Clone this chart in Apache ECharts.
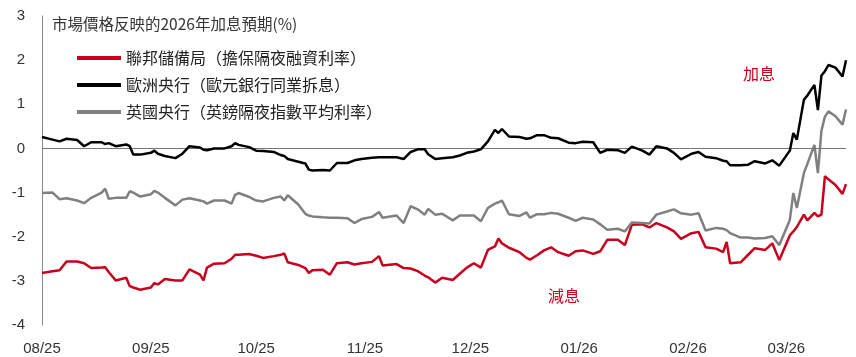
<!DOCTYPE html>
<html><head><meta charset="utf-8">
<script src="https://cdn.jsdelivr.net/npm/echarts@6/dist/echarts.min.js"></script>
<style>html,body{margin:0;padding:0;background:#fff}#c{width:856px;height:357px}</style>
</head><body><div id="c"></div>
<script>
const titleText = '市場價格反映的2026年加息預期(%)';
const seriesNames = ['聯邦儲備局（擔保隔夜融資利率）', '歐洲央行（歐元銀行同業拆息）', '英國央行（英鎊隔夜指數平均利率）'];
const dates = [
'2025-08-01','2025-08-04','2025-08-06','2025-08-08','2025-08-11','2025-08-13','2025-08-15','2025-08-18','2025-08-19','2025-08-20',
'2025-08-22','2025-08-25','2025-08-26','2025-08-27','2025-08-29','2025-09-01','2025-09-02','2025-09-03','2025-09-05','2025-09-08',
'2025-09-10','2025-09-12','2025-09-15','2025-09-16','2025-09-17','2025-09-19','2025-09-22','2025-09-24','2025-09-25','2025-09-26',
'2025-09-29','2025-10-01','2025-10-03','2025-10-06','2025-10-08','2025-10-09','2025-10-10','2025-10-13','2025-10-15','2025-10-16',
'2025-10-17','2025-10-20','2025-10-22','2025-10-24','2025-10-27','2025-10-29','2025-10-31','2025-11-03','2025-11-05','2025-11-06',
'2025-11-10','2025-11-12','2025-11-14','2025-11-16','2025-11-18','2025-11-19','2025-11-21','2025-11-23','2025-11-26','2025-11-28',
'2025-11-30','2025-12-02','2025-12-04','2025-12-06','2025-12-08','2025-12-09','2025-12-10','2025-12-12','2025-12-15','2025-12-17',
'2025-12-18','2025-12-20','2025-12-22','2025-12-24','2025-12-26','2025-12-29','2025-12-31','2026-01-02','2026-01-05','2026-01-07',
'2026-01-09','2026-01-12','2026-01-14','2026-01-16','2026-01-19','2026-01-21','2026-01-23','2026-01-26','2026-01-28','2026-01-30',
'2026-02-02','2026-02-04','2026-02-06','2026-02-09','2026-02-11','2026-02-12','2026-02-13','2026-02-16','2026-02-18','2026-02-20',
'2026-02-23','2026-02-25','2026-02-27','2026-03-02','2026-03-03','2026-03-04','2026-03-06','2026-03-07','2026-03-09','2026-03-10',
'2026-03-11','2026-03-12','2026-03-13','2026-03-15','2026-03-17','2026-03-18'];
const ecbValues = [
0.26,0.20,0.16,0.22,0.19,0.05,0.14,0.14,0.10,0.12,
0.05,0.09,0.05,-0.14,-0.14,-0.10,-0.05,-0.12,-0.17,-0.22,
-0.12,0.05,0.02,-0.03,-0.04,0.00,0.00,0.05,0.12,0.08,
0.03,-0.05,-0.06,-0.08,-0.15,-0.17,-0.24,-0.30,-0.34,-0.48,
-0.50,-0.49,-0.50,-0.33,-0.33,-0.27,-0.24,-0.21,-0.20,-0.20,
-0.20,-0.24,-0.08,-0.02,-0.02,-0.13,-0.24,-0.22,-0.20,-0.16,
-0.10,-0.07,-0.02,0.16,0.42,0.35,0.44,0.27,0.26,0.22,
0.23,0.30,0.30,0.24,0.23,0.13,0.12,0.15,0.14,-0.10,
-0.03,-0.04,-0.10,0.04,-0.05,-0.14,0.05,0.00,-0.10,-0.25,
-0.12,-0.08,-0.19,-0.22,-0.28,-0.29,-0.38,-0.38,-0.37,-0.29,
-0.34,-0.27,-0.39,-0.05,0.35,0.20,1.10,1.20,1.44,0.87,
1.65,1.75,1.89,1.83,1.63,2.00];
const boeValues = [
-1.01,-1.00,-1.15,-1.13,-1.18,-1.24,-1.12,-1.00,-0.91,-1.14,
-1.12,-1.12,-0.97,-1.00,-1.09,-1.04,-0.96,-1.00,-1.12,-1.29,
-1.16,-1.13,-1.18,-1.20,-1.25,-1.18,-1.18,-1.25,-1.05,-1.01,
-1.10,-1.18,-1.20,-1.12,-1.09,-1.18,-1.06,-1.27,-1.48,-1.52,
-1.54,-1.56,-1.57,-1.57,-1.58,-1.69,-1.60,-1.55,-1.44,-1.57,
-1.52,-1.69,-1.31,-1.38,-1.50,-1.37,-1.50,-1.48,-1.63,-1.52,
-1.52,-1.52,-1.65,-1.35,-1.25,-1.22,-1.18,-1.49,-1.53,-1.45,
-1.57,-1.49,-1.49,-1.46,-1.48,-1.57,-1.64,-1.57,-1.61,-1.72,
-1.84,-1.82,-1.88,-1.68,-1.69,-1.70,-1.50,-1.43,-1.38,-1.47,
-1.50,-1.47,-1.86,-1.80,-1.82,-1.85,-1.92,-2.02,-2.02,-2.04,
-2.03,-1.99,-2.19,-1.62,-1.01,-1.35,-0.56,-0.35,0.08,-0.56,
0.40,0.72,0.84,0.73,0.54,0.88];
const fedValues = [
-2.82,-2.78,-2.76,-2.56,-2.56,-2.60,-2.71,-2.70,-2.69,-2.80,
-2.99,-2.93,-3.12,-3.15,-3.20,-3.15,-3.05,-3.08,-2.96,-2.99,
-2.99,-2.74,-2.86,-2.99,-2.70,-2.61,-2.60,-2.50,-2.41,-2.41,
-2.39,-2.43,-2.48,-2.44,-2.41,-2.38,-2.58,-2.64,-2.71,-2.82,
-2.76,-2.75,-2.86,-2.60,-2.58,-2.63,-2.60,-2.57,-2.44,-2.65,
-2.62,-2.71,-2.72,-2.78,-2.88,-2.92,-3.04,-2.93,-2.98,-2.84,
-2.70,-2.60,-2.70,-2.30,-2.22,-2.04,-2.15,-2.25,-2.35,-2.48,
-2.52,-2.42,-2.31,-2.24,-2.35,-2.43,-2.33,-2.31,-2.39,-2.33,
-2.07,-2.07,-2.19,-1.73,-1.72,-1.79,-1.69,-1.79,-1.88,-2.05,
-1.92,-1.89,-2.24,-2.27,-2.35,-2.12,-2.60,-2.58,-2.42,-2.26,
-2.30,-2.15,-2.53,-1.97,-1.88,-1.78,-1.50,-1.63,-1.46,-1.54,
-1.50,-0.63,-0.70,-0.83,-1.03,-0.81];
const annotations = ['加息', '減息'];

const RED = '#c8001e', BLACK = '#000000', GRAY = '#808080';
const FONT = '"Liberation Sans", "Noto Sans CJK TC", sans-serif';
const CJK = '"Noto Sans CJK TC", "Liberation Sans", sans-serif';
const pair = vals => dates.map((d, i) => [d, vals[i]]);

const chart = echarts.init(document.getElementById('c'), null, {renderer: 'canvas'});
chart.setOption({
  animation: false,
  backgroundColor: '#fff',
  title: {text: titleText, left: 52, top: 16, padding: 0,
    textStyle: {fontSize: 15.5, fontWeight: 'normal', color: '#333', fontFamily: CJK}},
  legend: {orient: 'vertical', left: 77, top: 48, padding: 0, itemGap: 7,
    itemWidth: 44, itemHeight: 4, icon: 'rect',
    data: seriesNames,
    textStyle: {fontSize: 16, color: '#222', fontFamily: CJK, lineHeight: 20}},
  grid: {left: 42, right: 10, top: 16, bottom: 32, containLabel: false},
  xAxis: {type: 'time', min: dates[0], max: dates[dates.length - 1],
    splitNumber: 8, minInterval: 28 * 86400000,
    axisLine: {show: false}, axisTick: {show: false}, splitLine: {show: false},
    axisLabel: {fontSize: 15, color: '#333', fontFamily: FONT, margin: 16,
      showMinLabel: true, showMaxLabel: false,
      formatter: v => { const d = new Date(v); const m = d.getMonth() + 1; return (m < 10 ? '0' : '') + m + '/' + String(d.getFullYear() % 100).padStart(2, '0'); }}},
  yAxis: {type: 'value', min: -4, max: 3, interval: 1,
    axisLine: {show: true, lineStyle: {color: '#888', width: 1}},
    axisTick: {show: false}, splitLine: {show: false},
    axisLabel: {fontSize: 15, color: '#333', fontFamily: FONT, margin: 17}},
  series: [
    {name: seriesNames[0], type: 'line', data: pair(fedValues), showSymbol: false,
      lineStyle: {color: RED, width: 2.5}, itemStyle: {color: RED}, z: 3},
    {name: seriesNames[2], type: 'line', data: pair(boeValues), showSymbol: false,
      lineStyle: {color: GRAY, width: 2.5}, itemStyle: {color: GRAY}, z: 4},
    {name: seriesNames[1], type: 'line', data: pair(ecbValues), showSymbol: false,
      lineStyle: {color: BLACK, width: 2.5}, itemStyle: {color: BLACK}, z: 5,
      markLine: {silent: true, symbol: 'none', label: {show: false},
        lineStyle: {color: '#777', width: 1, type: 'solid'}, data: [{yAxis: 0}]}}
  ],
  graphic: [
    {type: 'text', left: 743, top: 66, style: {text: annotations[0], fill: RED, font: '16px ' + CJK}},
    {type: 'text', left: 548, top: 288, style: {text: annotations[1], fill: RED, font: '16px ' + CJK}}
  ]
});
</script></body></html>
